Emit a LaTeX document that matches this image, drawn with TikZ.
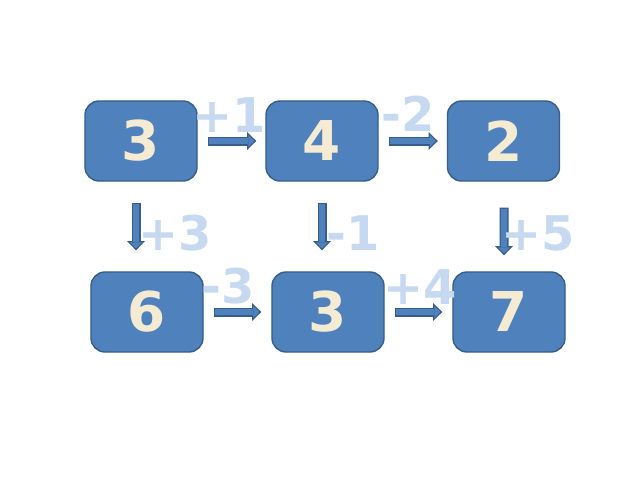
\documentclass[tikz,border=0pt]{standalone}
\usepackage{fontspec}
\setmainfont{DejaVu Sans}
\usepackage{tikz}
\usetikzlibrary{arrows.meta,calc}

\definecolor{boxfill}{HTML}{4F81BD}
\definecolor{boxedge}{HTML}{385D8A}
\definecolor{numcream}{HTML}{F5EBD3}
\definecolor{steplabel}{HTML}{C6D9F1}

\begin{document}
\begin{tikzpicture}[x=0.025cm,y=-0.025cm,
    numbox/.style={draw=boxedge,fill=boxfill,line width=1pt,rounded corners=10pt,
        minimum width=2.8cm,minimum height=2cm,text=numcream,
        font=\fontsize{39}{45}\selectfont\bfseries},
    steptext/.style={text=steplabel,inner sep=0pt,font=\fontsize{34}{40}\selectfont\bfseries},
    flowarrow/.style={draw=boxedge,line width=6.4pt,
        -{Triangle[width=13pt,length=6.6pt,line width=0pt]},
        postaction={draw=boxfill,line width=4.6pt,
            -{Triangle[width=8.8pt,length=4.4pt,line width=0pt]},
            shorten >=1.3pt,shorten <=0.9pt}}]

    \useasboundingbox (0,0) rectangle (640,480);

    % Draw the boxes
    \node[numbox] (top1) at (141,141) {3};
    \node[numbox] (top2) at (322,141) {4};
    \node[numbox] (top3) at (503.5,141) {2};
    \node[numbox] (bot1) at (147,312) {6};
    \node[numbox] (bot2) at (328,312) {3};
    \node[numbox] (bot3) at (509,312) {7};

    % Draw the arrows
    \draw[flowarrow] ($(top1.east)+(10,0)$) -- ($(top2.west)+(-9,0)$);
    \draw[flowarrow] ($(top2.east)+(10,0)$) -- ($(top3.west)+(-9,0)$);
    \draw[flowarrow] ($(bot1.east)+(10,0)$) -- ($(bot2.west)+(-10,0)$);
    \draw[flowarrow] ($(bot2.east)+(10,0)$) -- ($(bot3.west)+(-10,0)$);
    \draw[flowarrow] ($(top1.south)+(-5,21)$) -- ($(bot1.north)+(-11,-21)$);
    \draw[flowarrow] ($(top2.south)+(0,21)$) -- ($(bot2.north)+(-6,-21)$);
    \draw[flowarrow] ($(top3.south)+(0.5,26)$) -- ($(bot3.north)+(-5,-16)$);

    % Draw the step labels
    \node[steptext] (plus1) at (229,115) {+1};
    \node[steptext] (minus2) at (408,114) {-2};
    \node[steptext] (plus3) at (175,233) {+3};
    \node[steptext] (minus1) at (353,233) {-1};
    \node[steptext] (plus5) at (538,233) {+5};
    \node[steptext] (minus3) at (228,286) {-3};
    \node[steptext] (plus4) at (420,287) {+4};

\end{tikzpicture}
\end{document}
